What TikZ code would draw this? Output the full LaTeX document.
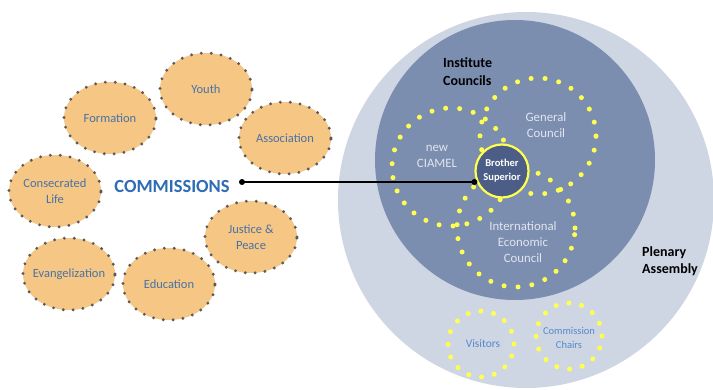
\documentclass[tikz,border=0pt]{standalone}
\usepackage{fontspec}
\setmainfont{Carlito}
\usetikzlibrary{shapes.geometric}
\definecolor{outerc}{RGB}{206,214,227}
\definecolor{innerc}{RGB}{124,142,176}
\definecolor{bsc}{RGB}{76,94,135}
\definecolor{ydot}{RGB}{255,255,80}
\definecolor{peach}{RGB}{246,198,132}
\definecolor{rim}{RGB}{90,90,90}
\definecolor{ctext}{RGB}{72,114,166}
\definecolor{commblue}{RGB}{46,108,180}
\definecolor{lighttext}{RGB}{224,229,238}
\definecolor{chairtext}{RGB}{86,136,204}
\begin{document}
\begin{tikzpicture}[x=1pt,y=-1pt,
  comm/.style={ellipse, fill=peach, draw=rim, line width=3.2pt, dash pattern=on 0pt off 9.9pt, line cap=round, minimum width=92pt, minimum height=72pt, inner sep=0pt},
  ctxt/.style={text=ctext, align=center, font=\fontsize{12.5}{16}\selectfont, inner sep=0pt},
  ydots/.style={circle, draw=ydot, line width=5pt, dash pattern=on 0pt off 14pt, line cap=round, inner sep=0pt},
  sdots/.style={circle, draw=ydot, line width=5pt, dash pattern=on 0pt off 13pt, line cap=round, inner sep=0pt, minimum size=66pt},
  ltxt/.style={text=lighttext, align=center, font=\fontsize{12.8}{16}\selectfont, inner sep=0pt},
  btxt/.style={text=black, align=left, font=\bfseries\fontsize{14}{17.5}\selectfont, inner sep=0pt},
  chtxt/.style={text=chairtext, align=center, font=\fontsize{10.5}{13.5}\selectfont, inner sep=0pt},
  ptdot/.style={circle, fill=black, inner sep=0pt, minimum size=6pt}
]
\useasboundingbox (0,0) rectangle (713,390);
\fill[white] (0,0) rectangle (713,390);

% commissions
\node[comm] (youth) at (206,89) {};
\node[ctxt] (youtht) at (youth) {Youth};
\node[comm] (form) at (110,118) {};
\node[ctxt] (formt) at (form) {Formation};
\node[comm] (assoc) at (285,138) {};
\node[ctxt] (assoct) at (assoc) {Association};
\node[comm] (consec) at (55,191) {};
\node[ctxt] (consect) at (consec) {Consecrated\\Life};
\node[comm] (just) at (251,237) {};
\node[ctxt] (justt) at (just) {Justice \&\\Peace};
\node[comm] (evang) at (69,274) {};
\node[ctxt] (evangt) at (evang) {Evangelization};
\node[comm] (educ) at (169,284) {};
\node[ctxt] (educt) at (educ) {Education};
\node[text=commblue, font=\bfseries\fontsize{18.5}{22}\selectfont, inner sep=0pt] (commlabel) at (172,186.5) {COMMISSIONS};

% plenary assembly
\node[circle, fill=outerc, minimum size=376pt, inner sep=0pt] (plenary) at (526,200) {};
\node[circle, fill=innerc, minimum size=280pt, inner sep=0pt] (councils) at (515,160) {};

\node[ydots, minimum size=116pt] (gc) at (538,136) {};
\node[ydots, minimum size=118pt] (ciamel) at (451,167) {};
\node[ydots, minimum size=118pt] (iec) at (516,228) {};
\node[sdots] (visit) at (481,344) {};
\node[sdots] (chairs) at (569,336) {};

\node[btxt] (inst) at (443,71.5) [anchor=west] {Institute\\Councils};
\node[btxt] (plen) at (642,261) [anchor=west] {Plenary\\Assembly};
\node[ltxt] (gct) at (546,125) {General\\Council};
\node[ltxt] (ciamelt) at (437,156) {new\\CIAMEL};
\node[ltxt] (iect) at (523,242) {International\\Economic\\Council};
\node[chtxt, font=\fontsize{11.5}{13.5}\selectfont] (visitt) at (483,344) {Visitors};
\node[chtxt] (chairst) at (569,338) {Commission\\Chairs};

\node[circle, fill=bsc, draw=ydot, line width=2.2pt, minimum size=53pt, inner sep=0pt, text=white, align=center, font=\bfseries\fontsize{10.5}{14}\selectfont] (bs) at (502,171) {Brother\\Superior};

% connector
\coordinate (cdot) at (242,182);
\coordinate (bsdot) at (bs.west |- cdot);
\draw[line width=1.8pt] (cdot) -- (bsdot);
\node[ptdot] (d1) at (cdot) {};
\node[ptdot] (d2) at (bsdot) {};
\end{tikzpicture}
\end{document}
